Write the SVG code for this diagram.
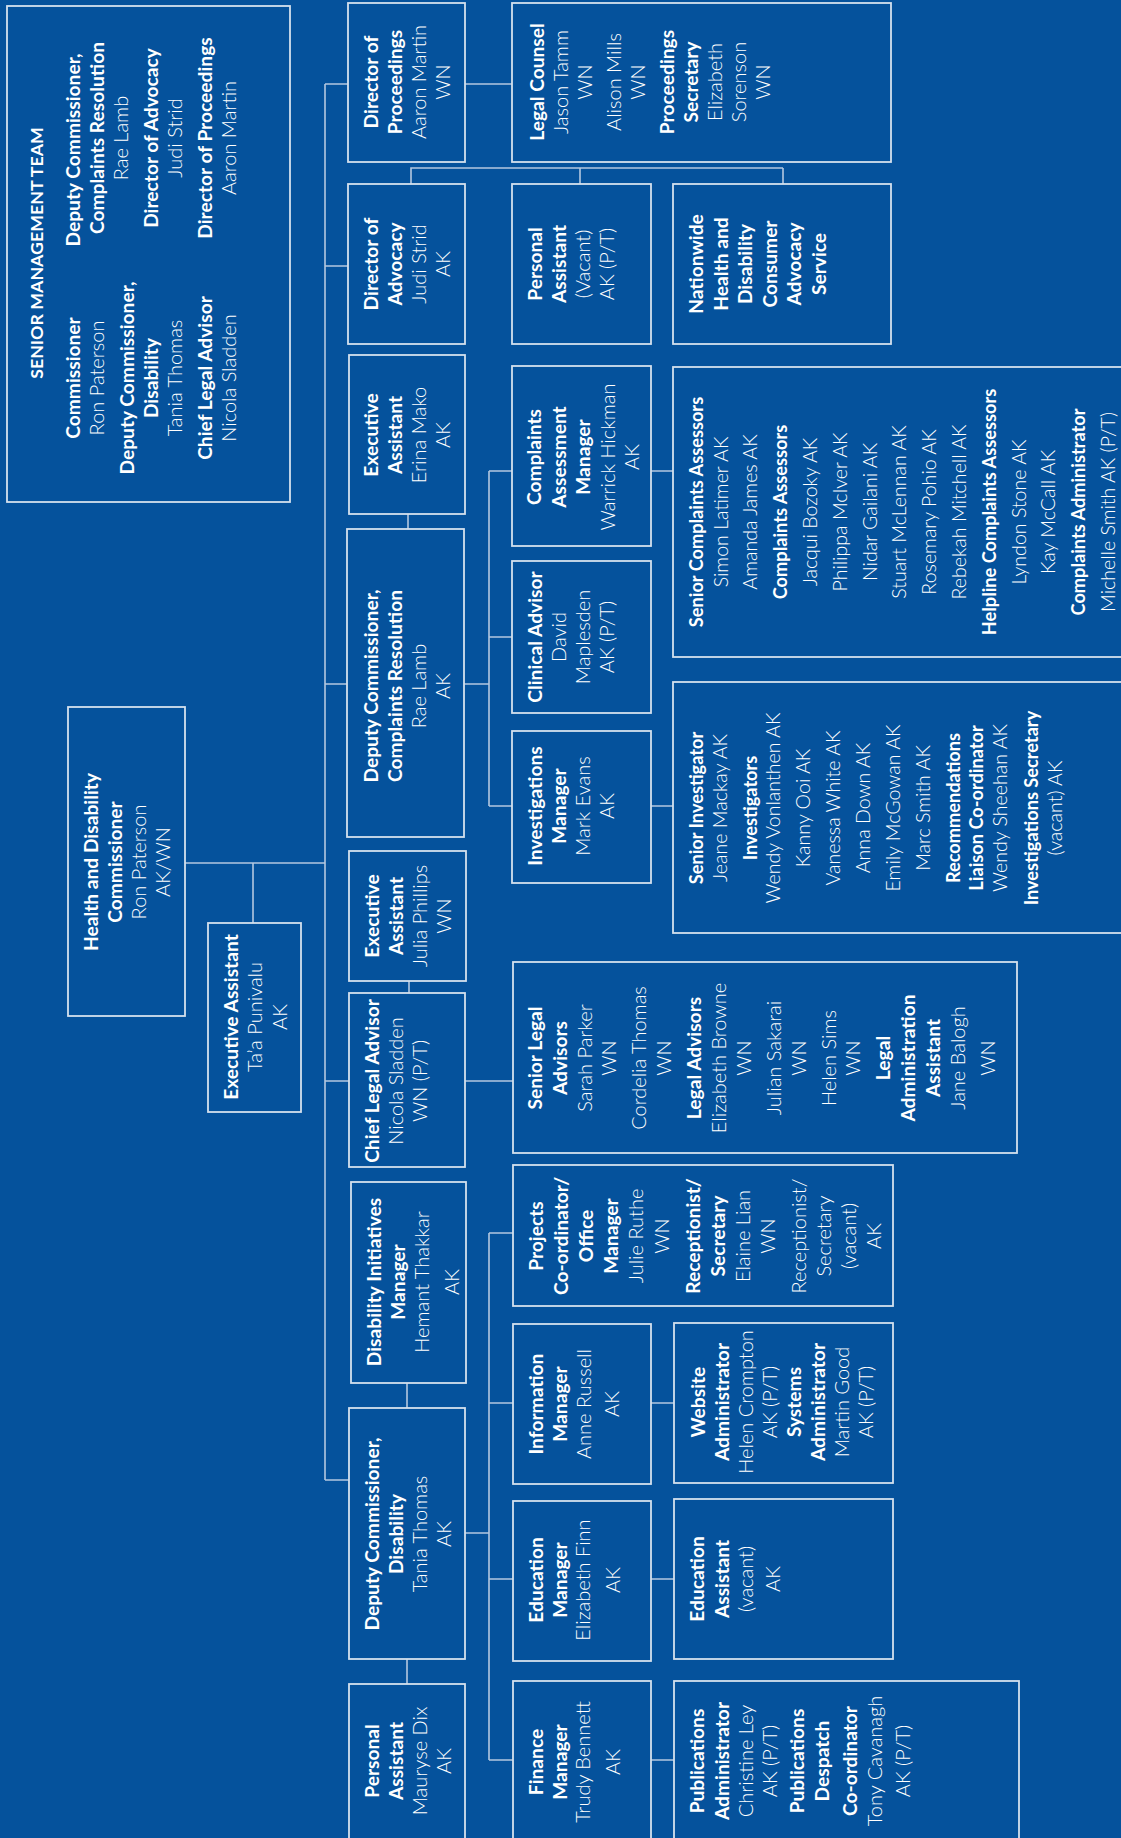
<svg xmlns="http://www.w3.org/2000/svg" width="1121" height="1838" viewBox="0 0 1121 1838">
<style>
.bg{fill:#05529c}
.bx{fill:none;stroke:#d4e0ee;stroke-width:1.8}
.cn{fill:none;stroke:#b4c8e0;stroke-width:1.6}
text{font-family:Lato,"Open Sans","Liberation Sans",sans-serif;font-size:19.2px;fill:#ffffff;text-anchor:middle}
.b{font-weight:700}
.l{font-weight:300;font-size:20px}
.sm .b{font-size:18.2px}
.sm .l{font-size:19.6px}
.hd{font-size:17.8px}
</style>
<rect class="bg" x="0" y="0" width="1121" height="1838"/>
<g id="connectors">
<path class="cn" d="M325,84 V1480 M185,863 H325 M253,863 V923 M325,84 H348 M465,84 H512 M325,266 H348 M411,184 V168 H783 M580,168 V184 M783,168 V184 M325,684 H347 M408,514 V529 M464,684 H489 M489,471 V806 M489,471 H512 M489,637 H512 M489,806 H512 M651,471 H673 M651,806 H673 M409,981 V993 M325,1081 H349 M465,1081 H513 M407,1383 V1408 M325,1480 H349 M465,1533 H489 M489,1233 V1760 M489,1233 H513 M489,1403 H513 M489,1579 H513 M489,1760 H513 M651,1403 H674 M651,1579 H674 M651,1760 H674 M407,1659 V1684"/>
</g>
<g id="smt">
<rect class="bx" x="7" y="6" width="283" height="496"/>
<text class="b hd" transform="translate(43,253) rotate(-90)">SENIOR MANAGEMENT TEAM</text>
<text transform="translate(80,378) rotate(-90)"><tspan class="b" x="0" y="0">Commissioner</tspan><tspan class="l" x="0" y="24">Ron Paterson</tspan><tspan class="b" x="0" y="54">Deputy Commissioner,</tspan><tspan class="b" x="0" y="78">Disability</tspan><tspan class="l" x="0" y="102">Tania Thomas</tspan><tspan class="b" x="0" y="132">Chief Legal Advisor</tspan><tspan class="l" x="0" y="156">Nicola Sladden</tspan></text>
<text transform="translate(80,138) rotate(-90)"><tspan class="b" x="-12" y="0">Deputy Commissioner,</tspan><tspan class="b" x="0" y="24">Complaints Resolution</tspan><tspan class="l" x="0" y="48">Rae Lamb</tspan><tspan class="b" x="0" y="78">Director of Advocacy</tspan><tspan class="l" x="0" y="102">Judi Strid</tspan><tspan class="b" x="0" y="132">Director of Proceedings</tspan><tspan class="l" x="0" y="156">Aaron Martin</tspan></text>
</g>
<g id="dir-proceedings">
<rect class="bx" x="348" y="3" width="117" height="159"/>
<text transform="translate(378,82) rotate(-90)"><tspan class="b" x="0" y="0">Director of</tspan><tspan class="b" x="0" y="24">Proceedings</tspan><tspan class="l" x="0" y="48">Aaron Martin</tspan><tspan class="l" x="0" y="72">WN</tspan></text>
</g>
<g id="legal-counsel">
<rect class="bx" x="512" y="3" width="379" height="159"/>
<text transform="translate(544,82) rotate(-90)"><tspan class="b" x="0" y="0">Legal Counsel</tspan><tspan class="l" x="0" y="24">Jason Tamm</tspan><tspan class="l" x="0" y="48">WN</tspan><tspan class="l" x="0" y="77">Alison Mills</tspan><tspan class="l" x="0" y="101">WN</tspan><tspan class="b" x="0" y="130">Proceedings</tspan><tspan class="b" x="0" y="154">Secretary</tspan><tspan class="l" x="0" y="178">Elizabeth</tspan><tspan class="l" x="0" y="202">Sorenson</tspan><tspan class="l" x="0" y="226">WN</tspan></text>
</g>
<g id="dir-advocacy">
<rect class="bx" x="348" y="184" width="117" height="160"/>
<text transform="translate(378,264) rotate(-90)"><tspan class="b" x="0" y="0">Director of</tspan><tspan class="b" x="0" y="24">Advocacy</tspan><tspan class="l" x="0" y="48">Judi Strid</tspan><tspan class="l" x="0" y="72">AK</tspan></text>
</g>
<g id="pa-vacant">
<rect class="bx" x="512" y="184" width="139" height="160"/>
<text transform="translate(542,264) rotate(-90)"><tspan class="b" x="0" y="0">Personal</tspan><tspan class="b" x="0" y="24">Assistant</tspan><tspan class="l" x="0" y="48">(Vacant)</tspan><tspan class="l" x="0" y="72">AK (P/T)</tspan></text>
</g>
<g id="nationwide">
<rect class="bx" x="673" y="184" width="218" height="160"/>
<text transform="translate(703,264) rotate(-90)"><tspan class="b" x="0" y="0">Nationwide</tspan><tspan class="b" x="0" y="24.5">Health and</tspan><tspan class="b" x="0" y="49">Disability</tspan><tspan class="b" x="0" y="73.5">Consumer</tspan><tspan class="b" x="0" y="98">Advocacy</tspan><tspan class="b" x="0" y="122.5">Service</tspan></text>
</g>
<g id="ea-erina">
<rect class="bx" x="349" y="355" width="116" height="159"/>
<text transform="translate(378,435) rotate(-90)"><tspan class="b" x="0" y="0">Executive</tspan><tspan class="b" x="0" y="24">Assistant</tspan><tspan class="l" x="0" y="48">Erina Mako</tspan><tspan class="l" x="0" y="72">AK</tspan></text>
</g>
<g id="cam">
<rect class="bx" x="512" y="366" width="139" height="180"/>
<text transform="translate(541,457) rotate(-90)"><tspan class="b" x="0" y="0">Complaints</tspan><tspan class="b" x="0" y="24.5">Assessment</tspan><tspan class="b" x="0" y="49">Manager</tspan><tspan class="l" x="0" y="73.5">Warrick Hickman</tspan><tspan class="l" x="0" y="98">AK</tspan></text>
</g>
<g id="complaints-assessors" class="sm">
<rect class="bx" x="673" y="367" width="470" height="290"/>
<text transform="translate(703,512) rotate(-90)"><tspan class="b" x="0" y="0">Senior Complaints Assessors</tspan><tspan class="l" x="0" y="24.5">Simon Latimer AK</tspan><tspan class="l" x="0" y="54.3">Amanda James AK</tspan><tspan class="b" x="0" y="84.1">Complaints Assessors</tspan><tspan class="l" x="0" y="113.9">Jacqui Bozoky AK</tspan><tspan class="l" x="0" y="143.7">Philippa McIver AK</tspan><tspan class="l" x="0" y="173.5">Nidar Gailani AK</tspan><tspan class="l" x="0" y="203.3">Stuart McLennan AK</tspan><tspan class="l" x="0" y="233.1">Rosemary Pohio AK</tspan><tspan class="l" x="0" y="262.9">Rebekah Mitchell AK</tspan><tspan class="b" x="0" y="292.7">Helpline Complaints Assessors</tspan><tspan class="l" x="0" y="322.5">Lyndon Stone AK</tspan><tspan class="l" x="0" y="352.3">Kay McCall AK</tspan><tspan class="b" x="0" y="382.1">Complaints Administrator</tspan><tspan class="l" x="0" y="411.9">Michelle Smith AK (P/T)</tspan></text>
</g>
<g id="dc-complaints">
<rect class="bx" x="347" y="529" width="117" height="308"/>
<text transform="translate(378,686) rotate(-90)"><tspan class="b" x="0" y="0">Deputy Commissioner,</tspan><tspan class="b" x="0" y="24">Complaints Resolution</tspan><tspan class="l" x="0" y="48">Rae Lamb</tspan><tspan class="l" x="0" y="72">AK</tspan></text>
</g>
<g id="clinical-advisor">
<rect class="bx" x="512" y="561" width="139" height="152"/>
<text transform="translate(542,637) rotate(-90)"><tspan class="b" x="0" y="0">Clinical Advisor</tspan><tspan class="l" x="0" y="24">David</tspan><tspan class="l" x="0" y="48">Maplesden</tspan><tspan class="l" x="0" y="72">AK (P/T)</tspan></text>
</g>
<g id="investigations-manager">
<rect class="bx" x="512" y="731" width="139" height="152"/>
<text transform="translate(542,806) rotate(-90)"><tspan class="b" x="0" y="0">Investigations</tspan><tspan class="b" x="0" y="24">Manager</tspan><tspan class="l" x="0" y="48">Mark Evans</tspan><tspan class="l" x="0" y="72">AK</tspan></text>
</g>
<g id="investigators" class="sm">
<rect class="bx" x="673" y="682" width="470" height="251"/>
<text transform="translate(703,808) rotate(-90)"><tspan class="b" x="0" y="0">Senior Investigator</tspan><tspan class="l" x="0" y="24">Jeane Mackay AK</tspan><tspan class="b" x="0" y="54">Investigators</tspan><tspan class="l" x="0" y="77">Wendy Vonlanthen AK</tspan><tspan class="l" x="0" y="107">Kanny Ooi AK</tspan><tspan class="l" x="0" y="137">Vanessa White AK</tspan><tspan class="l" x="0" y="167">Anna Down AK</tspan><tspan class="l" x="0" y="197">Emily McGowan AK</tspan><tspan class="l" x="0" y="227">Marc Smith AK</tspan><tspan class="b" x="0" y="257">Recommendations</tspan><tspan class="b" x="0" y="280">Liaison Co-ordinator</tspan><tspan class="l" x="0" y="304">Wendy Sheehan AK</tspan><tspan class="b" x="0" y="335">Investigations Secretary</tspan><tspan class="l" x="0" y="359">(vacant) AK</tspan></text>
</g>
<g id="commissioner">
<rect class="bx" x="68" y="707" width="117" height="309"/>
<text transform="translate(98,862) rotate(-90)"><tspan class="b" x="0" y="0">Health and Disability</tspan><tspan class="b" x="0" y="24">Commissioner</tspan><tspan class="l" x="0" y="48">Ron Paterson</tspan><tspan class="l" x="0" y="72">AK/WN</tspan></text>
</g>
<g id="ea-taa">
<rect class="bx" x="208" y="923" width="93" height="189"/>
<text transform="translate(238,1017) rotate(-90)"><tspan class="b" x="0" y="0">Executive Assistant</tspan><tspan class="l" x="0" y="24">Ta’a Punivalu</tspan><tspan class="l" x="0" y="49">AK</tspan></text>
</g>
<g id="ea-julia">
<rect class="bx" x="349" y="851" width="117" height="130"/>
<text transform="translate(379,916) rotate(-90)"><tspan class="b" x="0" y="0">Executive</tspan><tspan class="b" x="0" y="24">Assistant</tspan><tspan class="l" x="0" y="48">Julia Phillips</tspan><tspan class="l" x="0" y="72">WN</tspan></text>
</g>
<g id="chief-legal">
<rect class="bx" x="349" y="993" width="116" height="174"/>
<text transform="translate(379,1081) rotate(-90)"><tspan class="b" x="0" y="0">Chief Legal Advisor</tspan><tspan class="l" x="0" y="24">Nicola Sladden</tspan><tspan class="l" x="0" y="48">WN (P/T)</tspan></text>
</g>
<g id="legal-advisors">
<rect class="bx" x="513" y="962" width="504" height="191"/>
<text transform="translate(542,1058) rotate(-90)"><tspan class="b" x="0" y="0">Senior Legal</tspan><tspan class="b" x="0" y="24.8">Advisors</tspan><tspan class="l" x="0" y="49.6">Sarah Parker</tspan><tspan class="l" x="0" y="74.4">WN</tspan><tspan class="l" x="0" y="104.4">Cordelia Thomas</tspan><tspan class="l" x="0" y="129.2">WN</tspan><tspan class="b" x="0" y="159.2">Legal Advisors</tspan><tspan class="l" x="0" y="184">Elizabeth Browne</tspan><tspan class="l" x="0" y="208.8">WN</tspan><tspan class="l" x="0" y="238.8">Julian Sakarai</tspan><tspan class="l" x="0" y="263.6">WN</tspan><tspan class="l" x="0" y="293.6">Helen Sims</tspan><tspan class="l" x="0" y="318.4">WN</tspan><tspan class="b" x="0" y="348.4">Legal</tspan><tspan class="b" x="0" y="373.2">Administration</tspan><tspan class="b" x="0" y="398">Assistant</tspan><tspan class="l" x="0" y="422.8">Jane Balogh</tspan><tspan class="l" x="0" y="452.8">WN</tspan></text>
</g>
<g id="disability-initiatives">
<rect class="bx" x="351" y="1182" width="115" height="201"/>
<text transform="translate(381,1282) rotate(-90)"><tspan class="b" x="0" y="0">Disability Initiatives</tspan><tspan class="b" x="0" y="24">Manager</tspan><tspan class="l" x="0" y="48">Hemant Thakkar</tspan><tspan class="l" x="0" y="78">AK</tspan></text>
</g>
<g id="projects">
<rect class="bx" x="513" y="1165" width="380" height="141"/>
<text transform="translate(543,1236) rotate(-90)"><tspan class="b" x="0" y="0">Projects</tspan><tspan class="b" x="0" y="25.1">Co-ordinator/</tspan><tspan class="b" x="0" y="50.2">Office</tspan><tspan class="b" x="0" y="75.3">Manager</tspan><tspan class="l" x="0" y="100.4">Julie Ruthe</tspan><tspan class="l" x="0" y="125.5">WN</tspan><tspan class="b" x="0" y="156.5">Receptionist/</tspan><tspan class="b" x="0" y="181.6">Secretary</tspan><tspan class="l" x="0" y="206.7">Elaine Lian</tspan><tspan class="l" x="0" y="231.8">WN</tspan><tspan class="l" x="0" y="262.8">Receptionist/</tspan><tspan class="l" x="0" y="287.9">Secretary</tspan><tspan class="l" x="0" y="313">(vacant)</tspan><tspan class="l" x="0" y="338.1">AK</tspan></text>
</g>
<g id="dc-disability">
<rect class="bx" x="349" y="1408" width="116" height="251"/>
<text transform="translate(379,1534) rotate(-90)"><tspan class="b" x="0" y="0">Deputy Commissioner,</tspan><tspan class="b" x="0" y="24">Disability</tspan><tspan class="l" x="0" y="48">Tania Thomas</tspan><tspan class="l" x="0" y="72">AK</tspan></text>
</g>
<g id="information-manager">
<rect class="bx" x="513" y="1324" width="138" height="160"/>
<text transform="translate(543,1404) rotate(-90)"><tspan class="b" x="0" y="0">Information</tspan><tspan class="b" x="0" y="24">Manager</tspan><tspan class="l" x="0" y="48">Anne Russell</tspan><tspan class="l" x="0" y="76">AK</tspan></text>
</g>
<g id="website">
<rect class="bx" x="674" y="1323" width="219" height="160"/>
<text transform="translate(705,1402) rotate(-90)"><tspan class="b" x="0" y="0">Website</tspan><tspan class="b" x="0" y="24">Administrator</tspan><tspan class="l" x="0" y="48">Helen Crompton</tspan><tspan class="l" x="0" y="72">AK (P/T)</tspan><tspan class="b" x="0" y="96">Systems</tspan><tspan class="b" x="0" y="120">Administrator</tspan><tspan class="l" x="0" y="144">Martin Good</tspan><tspan class="l" x="0" y="168">AK (P/T)</tspan></text>
</g>
<g id="education-manager">
<rect class="bx" x="513" y="1501" width="138" height="160"/>
<text transform="translate(543,1580) rotate(-90)"><tspan class="b" x="0" y="0">Education</tspan><tspan class="b" x="0" y="24">Manager</tspan><tspan class="l" x="0" y="47">Elizabeth Finn</tspan><tspan class="l" x="0" y="77">AK</tspan></text>
</g>
<g id="education-assistant">
<rect class="bx" x="674" y="1499" width="219" height="160"/>
<text transform="translate(704,1579) rotate(-90)"><tspan class="b" x="0" y="0">Education</tspan><tspan class="b" x="0" y="24.5">Assistant</tspan><tspan class="l" x="0" y="49">(vacant)</tspan><tspan class="l" x="0" y="76">AK</tspan></text>
</g>
<g id="pa-mauryse">
<rect class="bx" x="349" y="1684" width="116" height="200"/>
<text transform="translate(379,1761) rotate(-90)"><tspan class="b" x="0" y="0">Personal</tspan><tspan class="b" x="0" y="24">Assistant</tspan><tspan class="l" x="0" y="48">Mauryse Dix</tspan><tspan class="l" x="0" y="72">AK</tspan></text>
</g>
<g id="finance-manager">
<rect class="bx" x="513" y="1681" width="138" height="200"/>
<text transform="translate(543,1762) rotate(-90)"><tspan class="b" x="0" y="0">Finance</tspan><tspan class="b" x="0" y="24">Manager</tspan><tspan class="l" x="0" y="47">Trudy Bennett</tspan><tspan class="l" x="0" y="77">AK</tspan></text>
</g>
<g id="publications">
<rect class="bx" x="674" y="1681" width="345" height="200"/>
<text transform="translate(704,1761) rotate(-90)"><tspan class="b" x="0" y="0">Publications</tspan><tspan class="b" x="0" y="25">Administrator</tspan><tspan class="l" x="0" y="49">Christine Ley</tspan><tspan class="l" x="0" y="73">AK (P/T)</tspan><tspan class="b" x="0" y="100">Publications</tspan><tspan class="b" x="0" y="125">Despatch</tspan><tspan class="b" x="0" y="152.5">Co-ordinator</tspan><tspan class="l" x="0" y="177.5">Tony Cavanagh</tspan><tspan class="l" x="0" y="205.5">AK (P/T)</tspan></text>
</g>
</svg>
